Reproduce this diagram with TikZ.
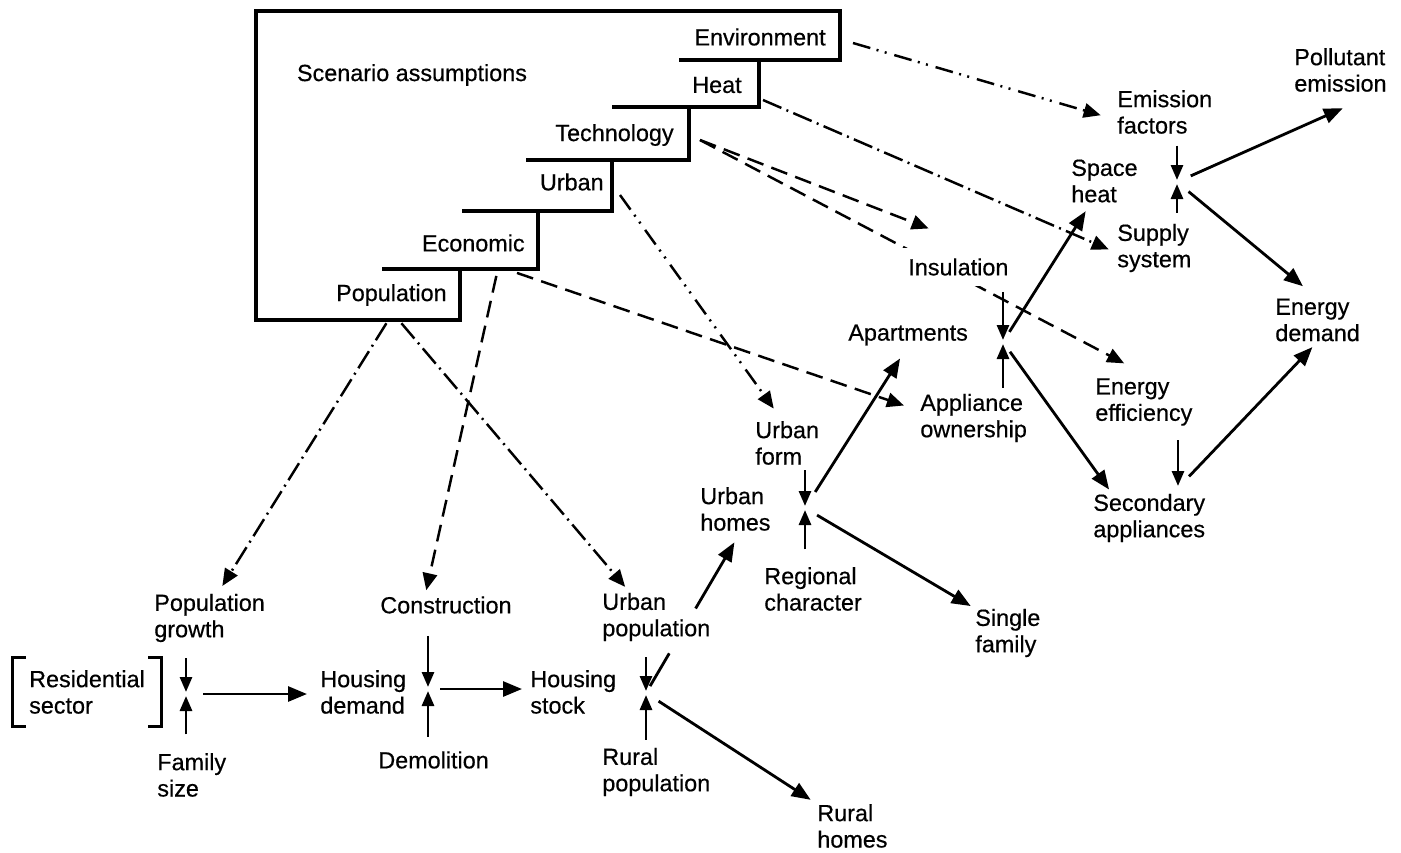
\documentclass[tikz,border=0pt]{standalone}
\usepackage{fontspec}
\setmainfont{Liberation Sans}
\newfontfamily\lblfam{Liberation Sans}[FakeBold=0.5]
\usetikzlibrary{arrows.meta, backgrounds}
\newcommand{\lblfont}{\lblfam\fontsize{13.3pt}{15pt}\selectfont}
\tikzset{
	lbl/.style={inner sep=0pt, anchor=west, align=left, font=\lblfont},
	steplbl/.style={inner sep=0pt, anchor=east, font=\lblfont},
	boxline/.style={line width=2pt},
	bracket/.style={line width=1.6pt},
	flow/.style={-{Triangle[length=3.8mm, width=3mm]}, line width=1.6pt},
	into/.style={-{Triangle[length=3mm, width=2.4mm]}, line width=1.6pt, shorten >=0.4mm},
	dashflow/.style={-{Triangle[length=3.4mm, width=2.9mm]}, line width=1.4pt, dash pattern=on 3.4mm off 1.7mm},
	dotflow/.style={-{Triangle[length=3.4mm, width=2.9mm]}, line width=1.4pt, dash pattern=on 4mm off 1.1mm on 0.4mm off 1.1mm},
	ddotflow/.style={-{Triangle[length=3.4mm, width=2.9mm]}, line width=1.4pt, dash pattern=on 3.6mm off 1.3mm on 0.4mm off 1.3mm on 0.4mm off 1.6mm},
}
\begin{document}
\begin{tikzpicture}[x=0.2mm, y=-0.2mm]
	\useasboundingbox (0,0) rectangle (1401,852);
	\draw[boxline] (256,11) -- (840,11) -- (840,60) -- (759,60) -- (759,107) -- (689,107) -- (689,160) -- (612,160) -- (612,211) -- (538,211) -- (538,269) -- (460,269) -- (460,320) -- (256,320) -- cycle;
	\foreach \xa/\xb/\ya in {679/759/60, 612/689/107, 526/612/160, 462/538/211, 382/460/269}
		\draw[boxline] (\xa,\ya) -- (\xb,\ya);
	\node[steplbl, anchor=center] (scen) at (412,75) {Scenario assumptions};
	\node[steplbl] (env) at (826,37) {Environment};
	\node[steplbl] (heat) at (742,85) {Heat};
	\node[steplbl] (tech) at (674,135) {Technology};
	\node[steplbl] (urb) at (604,182) {Urban};
	\node[steplbl] (econ) at (525,243) {Economic};
	\node[steplbl] (pop) at (447,295) {Population};

	\node[lbl, anchor=center, inner xsep=3.2mm, inner ysep=2.4mm] (resid) at (87,692) {Residential\\sector};
	\node[lbl] (popg) at (154,618) {Population\\growth};
	\node[lbl] (fam) at (157,775) {Family\\size};
	\node[lbl] (hdem) at (320,692) {Housing\\demand};
	\node[lbl] (constr) at (380,605) {Construction};
	\node[lbl] (demol) at (378,760) {Demolition};
	\node[lbl] (hstock) at (530,692) {Housing\\stock};
	\node[lbl] (upop) at (602,617) {Urban\\population};
	\node[lbl] (rpop) at (602,772) {Rural\\population};
	\node[lbl] (rhomes) at (817,826) {Rural\\homes};
	\node[lbl] (uhomes) at (700,509) {Urban\\homes};
	\node[lbl] (regc) at (764,589) {Regional\\character};
	\node[lbl] (sfam) at (975,633) {Single\\family};
	\node[lbl] (uform) at (755,443) {Urban\\form};
	\node[lbl] (apart) at (848,335) {Apartments};
	\node[lbl] (appl) at (920,418) {Appliance\\ownership};
	\node[lbl, inner sep=2mm, fill=white] (insul) at (898,267) {Insulation};
	\node[lbl] (spheat) at (1071,181) {Space\\heat};
	\node[lbl] (emis) at (1117,112) {Emission\\factors};
	\node[lbl] (supply) at (1117,248) {Supply\\system};
	\node[lbl] (poll) at (1294,70) {Pollutant\\emission};
	\node[lbl] (edem) at (1275,320) {Energy\\demand};
	\node[lbl] (eeff) at (1095,402) {Energy\\efficiency};
	\node[lbl] (sec) at (1093,518) {Secondary\\appliances};

	\coordinate (j1) at (186,694);
	\coordinate (j2) at (428,689);
	\coordinate (j3) at (646,693);
	\coordinate (j4) at (805,508);
	\coordinate (j5) at (1003,342);
	\coordinate (j6) at (1177,182);
	\coordinate (j7) at (1178,488);

	\draw[bracket] ([xshift=2.6mm]resid.north west) -- (resid.north west) -- (resid.south west) -- ([xshift=2.6mm]resid.south west);
	\draw[bracket] ([xshift=-2.6mm]resid.north east) -- (resid.north east) -- (resid.south east) -- ([xshift=-2.6mm]resid.south east);

	\draw[into, shorten <=3.2mm] (popg.south -| j1) -- (j1);
	\draw[into, shorten <=3.7mm] (fam.north -| j1) -- (j1);
	\draw[flow, shorten <=3.4mm, shorten >=2.6mm] (j1) -- (j1 -| hdem.west);
	\draw[into, shorten <=4.4mm] (constr.south -| j2) -- (j2);
	\draw[into, shorten <=2.9mm] (demol.north -| j2) -- (j2);
	\draw[flow, shorten <=2.4mm, shorten >=1.6mm] (j2) -- (j2 -| hstock.west);
	\draw[into, shorten <=3.2mm] (upop.south -| j3) -- (j3);
	\draw[into, shorten <=1.6mm] (rpop.north -| j3) -- (j3);
	\draw[flow, shorten <=1.6mm, shorten >=2.6mm, dash pattern=on 7.6mm off 10.4mm on 40mm off 1mm] (j3) -- ([shift={(41,0)}]uhomes.south west);
	\draw[flow, shorten <=3mm, shorten >=1.5mm] (j3) -- (rhomes.north west);
	\draw[into, shorten <=1mm] (uform.south -| j4) -- (j4);
	\draw[into, shorten <=3.5mm] (regc.north -| j4) -- (j4);
	\draw[flow, shorten <=2.8mm, shorten >=1mm] (j4) -- (sfam.north west);
	\draw[flow, shorten <=3.8mm, shorten >=3mm] (j4) -- (apart.south);
	\draw[into, shorten <=1.2mm] (insul.south -| j5) -- (j5);
	\draw[into, shorten <=1.2mm] (appl.north -| j5) -- (j5);
	\draw[flow, shorten <=2.4mm, shorten >=2mm] (j5) -- ([shift={(20,0)}]spheat.south west);
	\draw[flow, shorten <=2.4mm, shorten >=1mm] (j5) -- ([shift={(19,0)}]sec.north west);
	\draw[into, shorten <=2.3mm] (emis.south -| j6) -- (j6);
	\draw[into, shorten <=2.2mm] (supply.north -| j6) -- (j6);
	\draw[flow, shorten <=3mm, shorten >=2mm] (j6) -- ([shift={(58,12)}]poll.south west);
	\draw[flow, shorten <=3mm, shorten >=3.8mm] (j6) -- (edem.north);
	\draw[into, shorten <=2.8mm] (eeff.south -| j7) -- (j7);
	\draw[flow, shorten <=3.2mm, shorten >=1.5mm] (j7) -- (edem.south);

	\draw[ddotflow, shorten >=3.4mm] ([shift={(27,6)}]env.east) -- ([shift={(0,8)}]emis.west);
	\draw[dotflow, shorten >=1.8mm] ([shift={(21,15)}]heat.east) -- ([shift={(0,5)}]supply.west);
	\draw[dashflow, shorten >=2mm] ([shift={(26,5)}]tech.east) -- ([shift={(40,-16)}]insul.north west);
	\begin{pgfonlayer}{background}
		\draw[dashflow, shorten >=2mm] ([shift={(26,5)}]tech.east) -- ([shift={(38,-34)}]eeff.west);
	\end{pgfonlayer}
	\draw[ddotflow, shorten >=1.8mm] ([shift={(16,13)}]urb.east) -- ([shift={(24,-5)}]uform.north west);
	\draw[dashflow, shorten >=3.4mm] ([shift={(-8,21)}]econ.south east) -- ([shift={(0,-7)}]appl.west);
	\draw[dashflow, shorten >=1.2mm] ([shift={(23,24)}]econ.south) -- ([shift={(-21,0)}]constr.north);
	\draw[dotflow, shorten >=1.8mm] ([shift={(-5,17)}]pop.south) -- ([shift={(8,0)}]popg.north);
	\draw[dotflow, shorten >=1.5mm] ([shift={(10,17)}]pop.south) -- ([shift={(28,0)}]upop.north west);
\end{tikzpicture}
\end{document}
